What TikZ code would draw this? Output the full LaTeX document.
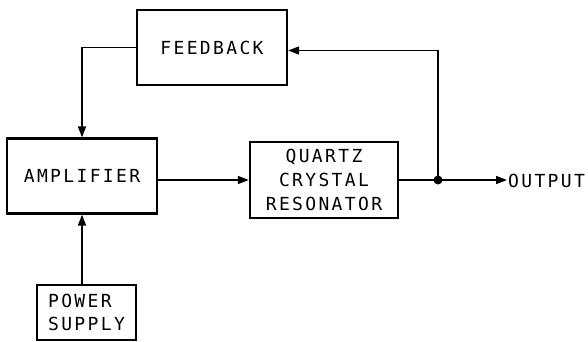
\documentclass[tikz,border=0pt]{standalone}
\usepackage{fontspec}
\newfontfamily\lblfont[LetterSpace=13]{DejaVu Sans Mono}
\usetikzlibrary{arrows.meta,calc}
\begin{document}
\begin{tikzpicture}[x=1pt,y=-1pt,
  blk/.style={draw,line width=2.3pt,inner sep=0pt,font=\lblfont\fontsize{18}{24}\selectfont},
  conn/.style={line width=1.6pt},
  arr/.style={conn,-{Triangle[length=11pt,width=8pt]}}]
\useasboundingbox (0,0) rectangle (588,342);
\node[blk,minimum width=150pt,minimum height=75pt] (fb) at (212,47.5) {FEEDBACK};
\node[blk,minimum width=150pt,minimum height=75pt] (amp) at (82,176) {AMPLIFIER};
\node[blk,minimum width=148pt,minimum height=76pt,align=center] (q) at (324,180) {QUARTZ\\CRYSTAL\\RESONATOR};
\node[blk,minimum width=99pt,minimum height=55pt,align=left,font=\lblfont\fontsize{18}{23}\selectfont] (pw) at (86.5,312.5) {POWER\\SUPPLY};
\coordinate (j) at (438,180);
\coordinate (o) at (507,180);
\node[anchor=west,inner sep=0pt,font=\lblfont\fontsize{18}{23}\selectfont] (ot) at (508,181) {OUTPUT};
\draw[arr] (fb.west) -| (amp.north);
\draw[arr] (amp.east |- q.west) -- (q.west);
\draw[conn] (q.east) -- (j);
\draw[arr] (j) -- (o);
\draw[arr] (j) |- ($(fb.east)+(0,3)$);
\draw[arr] (amp.south |- pw.north) -- (amp.south);
\fill (j) circle (4.5pt);
\end{tikzpicture}
\end{document}
